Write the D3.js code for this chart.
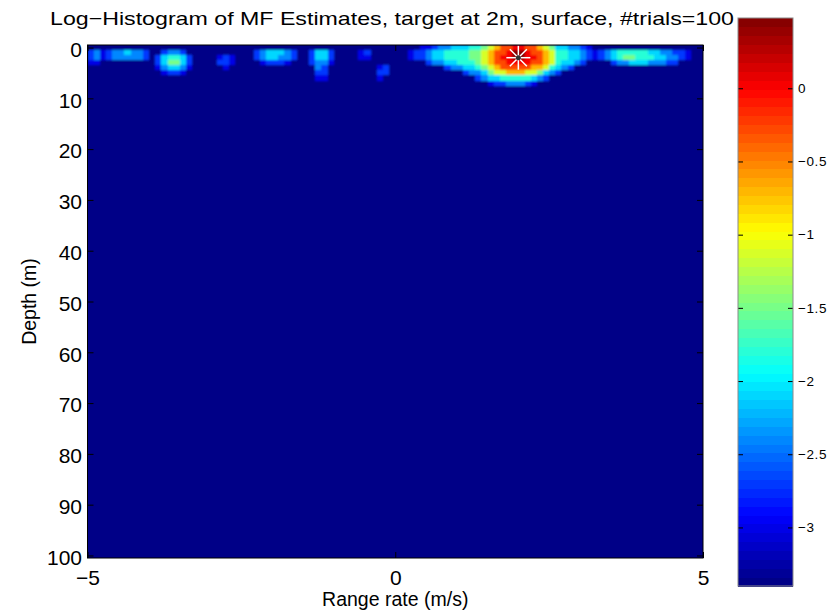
<!DOCTYPE html>
<html><head><meta charset="utf-8">
<script src="https://cdn.jsdelivr.net/npm/d3@7/dist/d3.min.js"></script>
<style>body{margin:0;background:#fff}svg{display:block}text{font-family:"Liberation Sans",Arial,Helvetica,sans-serif;fill:#000}</style>
</head><body>
<svg id="chart" width="835" height="613"></svg>
<script>
// ---- data ----
const titleText = "Log\u2212Histogram of MF Estimates, target at 2m, surface, #trials=100";
const xLabel = "Range rate (m/s)";
const yLabel = "Depth (m)";
const rateRange = [-5, 5];          // range-rate axis (m/s)
const rateStep = 0.1;               // bin width (m/s)
const depthRange = [0, 100];        // depth bins (m), 1 m each
const xTicks = [-5, 0, 5];
const yTicks = [0, 10, 20, 30, 40, 50, 60, 70, 80, 90, 100];
const cbarTicks = [0, -0.5, -1, -1.5, -2, -2.5, -3];
const colorDomain = [-3.40, 0.48];
// level code -> log10 histogram value
const levelCodes  = ".123456789ab";
const levelValues = [-3.40, -3.0, -2.7, -2.4, -2.1, -1.8, -1.5, -1.1, -0.7, -0.3, 0.0, 0.45];
// rows of depth 0..7 m, 100 range-rate bins each (groups of 10); deeper rows are all background
const hotRows = [
  ".......... .......... .......... .......... .......... ....112334 445567899a a998764433 21........ ..........",
  "2312334332 ..2332.... .......234 4432..2442 ....12.... ..12234455 55667899ab ba99875544 3212345555 54433221..",
  "2312333332 .245542... .121...234 4332..2442 ....11.... ..12234455 5566789aab baa9875544 3212345665 55443321..",
  "11........ .246642... .221....12 221...2331 .......... .....23344 55567899aa aa99875443 2....23344 433322....",
  ".......... .134431... ..1....... .......32. .......12. ........23 3445678999 998875432. .......... ..........",
  ".......... ..1221.... .......... .......22. .......22. .......... .233467788 8776432... .......... ..........",
  ".......... .......... .......... .......11. .......1.. .......... ...2344555 55432..... .......... ..........",
  ".......... .......... .......... .......... .......... .......... .....12233 321....... .......... .........."
];
const target = {rate: 2, depth: 2};

// ---- build grid ----
const nCols = Math.round((rateRange[1] - rateRange[0]) / rateStep);
const depths = d3.range(depthRange[0], depthRange[1] + 1);
const cells = [];
depths.forEach(d => {
  const s = (hotRows[d] || "").replace(/ /g, "");
  for (let c = 0; c < nCols; c++) {
    const ch = s[c] || ".";
    cells.push({depth: d, r0: rateRange[0] + c * rateStep, v: levelValues[levelCodes.indexOf(ch)]});
  }
});

// ---- layout ----
const svg = d3.select("#chart");
const L = 87.5, R = 703, T = 45, B = 558;
const x = d3.scaleLinear().domain(rateRange).range([L, R]);
const y = d3.scaleLinear().domain([depthRange[0] - 0.5, depthRange[1] + 0.5]).range([T, B]);

function jet(t) {
  const cl = v => Math.max(0, Math.min(1, v));
  return d3.rgb(255 * cl(1.5 - Math.abs(4 * t - 3)), 255 * cl(1.5 - Math.abs(4 * t - 2)), 255 * cl(1.5 - Math.abs(4 * t - 1)));
}
const nLev = 64;
const color = v => {
  let i = Math.floor((v - colorDomain[0]) / (colorDomain[1] - colorDomain[0]) * nLev);
  i = Math.max(0, Math.min(nLev - 1, i));
  return jet((i + 0.5) / nLev);
};

const defs = svg.append("defs");
defs.append("clipPath").attr("id", "plotClip").append("rect")
  .attr("x", L).attr("y", T).attr("width", R - L).attr("height", B - T);
defs.append("filter").attr("id", "soft").attr("x", "-5%").attr("y", "-5%").attr("width", "110%").attr("height", "110%")
  .append("feGaussianBlur").attr("stdDeviation", 0.9);

const plot = svg.append("g").attr("clip-path", "url(#plotClip)");
plot.append("rect").attr("x", L).attr("y", T).attr("width", R - L).attr("height", B - T)
  .attr("fill", color(levelValues[0]));
const g = plot.append("g").attr("filter", "url(#soft)");
g.selectAll("rect.cell").data(cells).join("rect")
  .attr("class", "cell")
  .attr("x", d => x(d.r0))
  .attr("y", d => y(d.depth - 0.5))
  .attr("width", d => x(d.r0 + rateStep) - x(d.r0) + 0.6)
  .attr("height", d => y(d.depth + 0.5) - y(d.depth - 0.5) + 0.6)
  .attr("fill", d => color(d.v))
  .attr("shape-rendering", "crispEdges");

// target marker (asterisk)
const tx = x(target.rate), ty = y(target.depth), rr = 12, rd = 8.5;
const star = svg.append("g").attr("stroke", "#fff").attr("stroke-width", 1.5);
[[-rr,0,rr,0],[0,-rr,0,rr],[-rd,-rd,rd,rd],[-rd,rd,rd,-rd]].forEach(p =>
  star.append("line").attr("x1", tx + p[0]).attr("y1", ty + p[1]).attr("x2", tx + p[2]).attr("y2", ty + p[3]));
svg.append("circle").attr("cx", tx).attr("cy", ty).attr("r", 2.5).attr("fill", "#333");

// axes
const fs = 21;
const ax = svg.append("g").attr("transform", `translate(${L},0)`)
  .call(d3.axisLeft(y).tickValues(yTicks).tickSize(-6).tickSizeOuter(0).tickPadding(5.5));
ax.selectAll("text").attr("font-size", fs).attr("dy", "0.42em");
const bx = svg.append("g").attr("transform", `translate(0,${B})`)
  .call(d3.axisBottom(x).tickValues(xTicks).tickSize(-6).tickSizeOuter(0).tickPadding(12));
bx.selectAll("text").attr("font-size", fs);
svg.append("g").attr("transform", `translate(${R},0)`)
  .call(d3.axisRight(y).tickValues(yTicks).tickSize(-6).tickSizeOuter(0).tickFormat(""));
svg.append("g").attr("transform", `translate(0,${T})`)
  .call(d3.axisTop(x).tickValues(xTicks).tickSize(-6).tickSizeOuter(0).tickFormat(""));
svg.selectAll(".domain").remove();
svg.selectAll(".tick line").attr("stroke", "#000");
svg.append("rect").attr("x", L).attr("y", T).attr("width", R - L).attr("height", B - T)
  .attr("fill", "none").attr("stroke", "#000").attr("stroke-width", 1);

// titles
svg.append("text").attr("x", 392).attr("y", 25).attr("text-anchor", "middle")
  .attr("font-size", 19).attr("textLength", 684).attr("lengthAdjust", "spacingAndGlyphs").text(titleText);
svg.append("text").attr("x", (L + R) / 2).attr("y", 606).attr("text-anchor", "middle")
  .attr("font-size", 19.5).text(xLabel);
svg.append("text").attr("transform", `translate(36,${(T + B) / 2}) rotate(-90)`)
  .attr("text-anchor", "middle").attr("font-size", 19.5).text(yLabel);

// colorbar
const cbL = 738, cbR = 793, cbT = 18, cbB = 586;
const cy = d3.scaleLinear().domain(colorDomain).range([cbB, cbT]);
const bands = d3.range(nLev);
const cbg = svg.append("g");
cbg.selectAll("rect").data(bands).join("rect")
  .attr("x", cbL).attr("width", cbR - cbL)
  .attr("y", i => cbB - (i + 1) * (cbB - cbT) / nLev)
  .attr("height", (cbB - cbT) / nLev + 0.6)
  .attr("fill", i => jet((i + 0.5) / nLev))
  .attr("shape-rendering", "crispEdges");
cbg.append("g").attr("transform", `translate(${cbR},0)`)
  .call(d3.axisRight(cy).tickValues(cbarTicks).tickSize(-5).tickSizeOuter(0).tickPadding(5)
    .tickFormat(d => d === 0 ? "0" : d3.format("")(d)))
  .call(s => s.select(".domain").remove())
  .call(s => s.selectAll("text").attr("font-size", 13.5).attr("letter-spacing", "0.6px"))
  .call(s => s.selectAll("line").attr("stroke", "#000"));
cbg.append("g").attr("transform", `translate(${cbL},0)`)
  .call(d3.axisLeft(cy).tickValues(cbarTicks).tickSize(-5).tickSizeOuter(0).tickFormat(""))
  .call(s => s.select(".domain").remove())
  .call(s => s.selectAll("line").attr("stroke", "#000"));
cbg.append("rect").attr("x", cbL).attr("y", cbT).attr("width", cbR - cbL).attr("height", cbB - cbT)
  .attr("fill", "none").attr("stroke", "#8a8a8a").attr("stroke-width", 1);
</script>
</body></html>
